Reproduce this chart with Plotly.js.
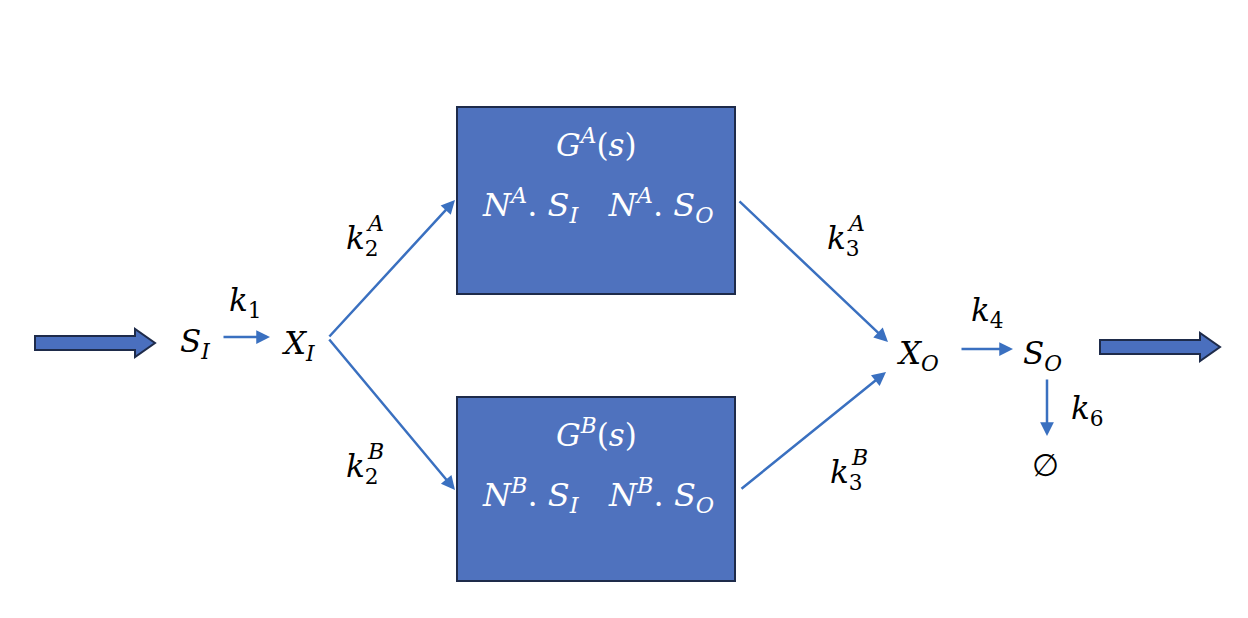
<!DOCTYPE html>
<html>
<head>
<meta charset="utf-8">
<script src="https://cdn.plot.ly/plotly-3.0.1.min.js"></script>
<style>html,body{margin:0;padding:0;background:#fff}#chart{width:1248px;height:618px}</style>
</head>
<body>
<div id="chart"></div>
<script>
// labels of the diagram
const nodeLabels = ['<i>S</i><sub><i>I</i></sub>', '<i>X</i><sub><i>I</i></sub>', '<i>X</i><sub><i>O</i></sub>', '<i>S</i><sub><i>O</i></sub>', '∅'];
const nodeX = [195, 298, 918, 1042, 1045];
const nodeY = [343, 345, 355, 355, 465];

const rateLabels = ['<i>k</i><sub>1</sub>', '<i>k</i><sub>2</sub>', '<i>k</i><sub>2</sub>', '<i>k</i><sub>3</sub>', '<i>k</i><sub>3</sub>', '<i>k</i><sub>4</sub>', '<i>k</i><sub>6</sub>'];
const rateX = [245, 362, 362, 843, 846, 987, 1087];
const rateY = [302, 240, 468, 240, 474, 312, 410];
const rateSup = ['', 'A', 'B', 'A', 'B', '', ''];

const boxTitles = ['<i>G</i><sup><i>A</i></sup>(<i>s</i>)', '<i>G</i><sup><i>B</i></sup>(<i>s</i>)'];
const boxLines = ['<i>N</i><sup><i>A</i></sup>. <i>S</i><sub><i>I</i></sub>   <i>N</i><sup><i>A</i></sup>. <i>S</i><sub><i>O</i></sub>',
                  '<i>N</i><sup><i>B</i></sup>. <i>S</i><sub><i>I</i></sub>   <i>N</i><sup><i>B</i></sup>. <i>S</i><sub><i>O</i></sub>'];
const boxTop = [107, 397];
const boxBottom = [294, 581];

// arrows: [fromX, fromY, toX, toY]
const links = [
  [222, 337, 270, 337],
  [328, 338, 455, 200],
  [328, 338, 455, 490],
  [738, 200, 888, 342],
  [740, 490, 886, 372],
  [960, 349, 1013, 349],
  [1047, 378, 1047, 436]
];

const blue = '#3a70c0';
const font = {family: 'DejaVu Serif', size: 31, color: '#000'};
const annotations = [];
nodeLabels.forEach((t, i) => annotations.push({x: nodeX[i], y: nodeY[i], text: t, showarrow: false, font}));
rateLabels.forEach((t, i) => {
  annotations.push({x: rateX[i], y: rateY[i], text: t, showarrow: false, font});
  if (rateSup[i]) annotations.push({x: rateX[i] + 13, y: rateY[i] - 17, text: '<i>' + rateSup[i] + '</i>', showarrow: false,
                                    font: {family: 'DejaVu Serif', size: 22, color: '#000'}});
});
boxTitles.forEach((t, i) => {
  annotations.push({x: 596, y: boxTop[i] + 36, text: t, showarrow: false, font: {...font, color: '#fff'}});
  annotations.push({x: 598, y: boxTop[i] + 98, text: boxLines[i], showarrow: false, font: {...font, size: 32, color: '#fff'}});
});
links.forEach(l => annotations.push({x: l[2], y: l[3], ax: l[0], ay: l[1], xref: 'x', yref: 'y', axref: 'x', ayref: 'y',
  text: '', showarrow: true, arrowhead: 2, arrowsize: 1.1, arrowwidth: 2.5, arrowcolor: blue}));

const shapes = boxTop.map((t, i) => ({type: 'rect', x0: 457, x1: 735, y0: t, y1: boxBottom[i],
  fillcolor: '#4f72be', line: {color: '#1e2b4a', width: 2}}));
function bigArrow(x0, y) {
  return {type: 'path', fillcolor: '#4a6fbe', line: {color: '#1e2b4a', width: 2},
    path: `M${x0},${y-7} L${x0+100},${y-7} L${x0+100},${y-14} L${x0+120},${y} L${x0+100},${y+14} L${x0+100},${y+7} L${x0},${y+7} Z`};
}
shapes.push(bigArrow(35, 343));
shapes.push(bigArrow(1100, 347));

const layout = {
  width: 1248, height: 618,
  margin: {l: 0, r: 0, t: 0, b: 0},
  paper_bgcolor: '#fff', plot_bgcolor: '#fff',
  showlegend: false,
  xaxis: {range: [0, 1248], visible: false, fixedrange: true},
  yaxis: {range: [618, 0], visible: false, fixedrange: true},
  shapes, annotations
};
Plotly.newPlot('chart', [], layout, {displayModeBar: false, staticPlot: true});
</script>
</body>
</html>
